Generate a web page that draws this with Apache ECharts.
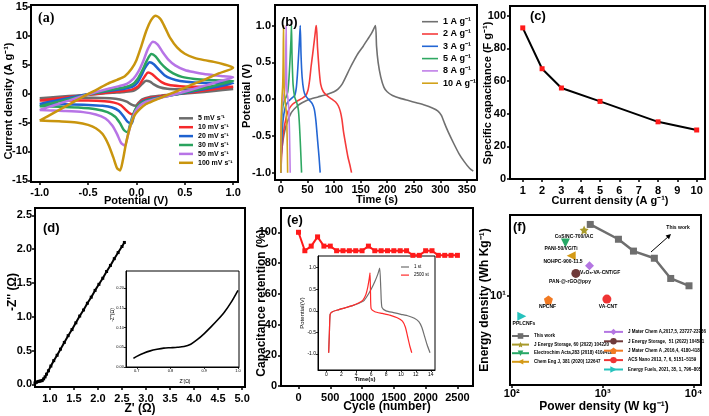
<!DOCTYPE html>
<html><head><meta charset="utf-8">
<script src="https://cdn.jsdelivr.net/npm/echarts@6/dist/echarts.min.js"></script>
<style>html,body{margin:0;padding:0;background:#fff}#c{width:709px;height:416px}</style>
</head><body><div id="c"></div>
<script>
// ---------- DATA ----------
// (a) CV curves [potential V, current A/g]
const cvNames = ['5 mV s⁻¹','10 mV s⁻¹','20 mV s⁻¹','30 mV s⁻¹','50 mV s⁻¹','100 mV s⁻¹'];
const cv5 = [[-1,-0.8],[-0.8,-0.55],[-0.6,-0.3],[-0.4,-0.05],[-0.25,0.15],[-0.12,0.3],[-0.03,0.5],[0.02,1.0],[0.06,1.7],[0.1,2.25],[0.14,2.1],[0.18,1.6],[0.24,1.1],[0.32,0.85],[0.45,0.75],[0.65,0.72],[0.85,0.75],[1.0,0.8],
 [0.8,0.45],[0.6,0.15],[0.4,-0.12],[0.25,-0.35],[0.13,-0.6],[0.06,-1.0],[0.02,-1.6],[-0.01,-2.1],[-0.05,-1.9],[-0.1,-1.4],[-0.17,-1.0],[-0.27,-0.8],[-0.45,-0.72],[-0.7,-0.75],[-1.0,-0.8]];
const cv10 = [[-1,-1.2],[-0.8,-0.8],[-0.6,-0.4],[-0.4,0.0],[-0.25,0.3],[-0.12,0.5],[-0.04,0.75],[0.02,1.3],[0.06,2.3],[0.09,3.1],[0.12,3.65],[0.16,3.4],[0.2,2.8],[0.26,2.0],[0.33,1.55],[0.45,1.3],[0.6,1.2],[0.8,1.2],[1.0,1.2],
 [0.8,0.75],[0.6,0.3],[0.4,-0.1],[0.25,-0.45],[0.14,-0.75],[0.07,-1.1],[0.02,-1.8],[-0.01,-2.8],[-0.04,-3.6],[-0.07,-3.4],[-0.11,-2.8],[-0.16,-2.0],[-0.23,-1.55],[-0.33,-1.3],[-0.5,-1.2],[-0.75,-1.2],[-1.0,-1.2]];
const cv20 = [[-1,-1.8],[-0.85,-1.25],[-0.7,-0.75],[-0.55,-0.25],[-0.4,0.2],[-0.25,0.55],[-0.12,0.85],[-0.04,1.2],[0.01,1.9],[0.05,3.1],[0.09,4.5],[0.138,5.45],[0.18,5.1],[0.23,4.2],[0.29,3.2],[0.36,2.6],[0.45,2.2],[0.6,1.95],[0.8,1.85],[1.0,1.8],
 [0.85,1.25],[0.7,0.75],[0.55,0.3],[0.4,-0.15],[0.25,-0.6],[0.14,-0.95],[0.07,-1.3],[0.02,-2.0],[-0.02,-3.3],[-0.05,-5.2],[-0.09,-4.9],[-0.13,-4.0],[-0.18,-3.0],[-0.25,-2.4],[-0.35,-2.1],[-0.5,-1.95],[-0.75,-1.85],[-1.0,-1.8]];
const cv30 = [[-1,-2.2],[-0.85,-1.55],[-0.7,-0.95],[-0.55,-0.35],[-0.4,0.2],[-0.25,0.7],[-0.12,1.1],[-0.04,1.6],[0.01,2.5],[0.06,4.0],[0.11,5.8],[0.155,6.85],[0.2,6.4],[0.25,5.3],[0.31,4.3],[0.38,3.5],[0.47,2.9],[0.6,2.55],[0.75,2.35],[0.9,2.25],[1.0,2.2],
 [0.85,1.55],[0.7,0.95],[0.55,0.4],[0.4,-0.15],[0.25,-0.65],[0.14,-1.05],[0.06,-1.5],[0.0,-2.4],[-0.04,-3.9],[-0.07,-5.6],[-0.09,-6.7],[-0.13,-6.3],[-0.17,-5.1],[-0.22,-4.0],[-0.3,-3.2],[-0.42,-2.7],[-0.6,-2.4],[-0.8,-2.25],[-1.0,-2.2]];
const cv50 = [[-1,-2.85],[-0.85,-2.0],[-0.7,-1.2],[-0.55,-0.4],[-0.4,0.35],[-0.28,0.9],[-0.18,1.3],[-0.1,1.7],[-0.03,2.6],[0.02,3.8],[0.07,5.6],[0.12,7.8],[0.17,9.0],[0.22,8.5],[0.27,7.2],[0.33,5.9],[0.4,4.9],[0.5,4.1],[0.6,3.7],[0.7,3.4],[0.8,3.2],[0.9,3.0],[1.0,2.85],
 [0.85,2.1],[0.7,1.35],[0.55,0.6],[0.4,-0.1],[0.28,-0.6],[0.18,-1.0],[0.1,-1.4],[0.04,-2.0],[-0.01,-3.0],[-0.05,-4.8],[-0.09,-7.3],[-0.12,-9.0],[-0.16,-8.5],[-0.2,-7.0],[-0.25,-5.5],[-0.32,-4.3],[-0.42,-3.6],[-0.55,-3.2],[-0.75,-3.0],[-1.0,-2.85]];
const cv100 = [[-1,-4.65],[-0.85,-3.3],[-0.7,-1.9],[-0.55,-0.5],[-0.4,0.8],[-0.3,1.7],[-0.2,2.4],[-0.12,3.0],[-0.05,4.3],[0.0,5.8],[0.05,8.2],[0.1,10.8],[0.15,12.7],[0.2,13.5],[0.25,12.9],[0.3,11.3],[0.35,9.6],[0.42,8.0],[0.5,6.9],[0.6,6.2],[0.7,5.8],[0.8,5.5],[0.9,5.1],[1.0,4.5],
 [0.85,3.5],[0.7,2.4],[0.55,1.4],[0.4,0.3],[0.28,-0.5],[0.18,-1.2],[0.1,-1.8],[0.04,-2.6],[-0.02,-3.8],[-0.07,-6.0],[-0.11,-8.8],[-0.14,-11.5],[-0.17,-13.3],[-0.2,-12.9],[-0.24,-11.0],[-0.29,-8.8],[-0.35,-7.0],[-0.42,-6.0],[-0.5,-5.4],[-0.62,-5.0],[-0.8,-4.8],[-1.0,-4.65]];

// (b) GCD curves [time s, potential V]
const gcdNames = ['1 A g⁻¹','2 A g⁻¹','3 A g⁻¹','5 A g⁻¹','8 A g⁻¹','10 A g⁻¹'];
const gcd1 = [[0,-0.8],[3,-0.62],[6,-0.48],[10,-0.36],[15,-0.26],[20,-0.18],[30,-0.1],[40,-0.05],[55,0.0],[70,0.03],[85,0.06],[100,0.1],[108,0.14],[115,0.2],[122,0.3],[130,0.42],[138,0.53],[146,0.63],[155,0.72],[163,0.81],[171,0.9],[178,1.0],[180,0.72],[183,0.5],[188,0.3],[194,0.16],[200,0.1],[210,0.05],[225,0.01],[240,-0.02],[255,-0.05],[270,-0.08],[285,-0.12],[295,-0.16],[302,-0.22],[308,-0.33],[315,-0.45],[325,-0.6],[335,-0.74],[345,-0.85],[355,-0.94],[362,-0.98]];
const gcd2 = [[0,-1.0],[2,-0.7],[5,-0.45],[10,-0.25],[15,-0.14],[22,-0.07],[30,-0.03],[40,0.01],[47,0.05],[51,0.12],[54,0.25],[57,0.45],[60,0.62],[63,0.8],[66,0.98],[67,1.0],[69,0.7],[72,0.4],[75,0.2],[80,0.1],[88,0.04],[96,0.0],[103,-0.04],[108,-0.09],[112,-0.17],[115,-0.28],[118,-0.45],[122,-0.62],[126,-0.78],[130,-0.9],[133,-1.0]];
const gcd3 = [[0,-1.0],[1.5,-0.6],[4,-0.3],[8,-0.12],[13,-0.04],[20,0.01],[26,0.05],[29,0.15],[31,0.32],[33,0.55],[35,0.8],[36.5,1.0],[38,0.6],[40,0.3],[43,0.12],[47,0.04],[53,-0.01],[59,-0.06],[63,-0.14],[66,-0.3],[69,-0.55],[72,-0.8],[74,-1.0]];
const gcd5 = [[0,-1.0],[1,-0.45],[3,-0.15],[6,-0.03],[10,0.03],[13,0.1],[15,0.25],[17,0.5],[19,0.8],[20,1.0],[21,0.6],[23,0.2],[26,0.03],[30,-0.05],[33,-0.15],[35,-0.35],[37,-0.65],[39,-1.0]];
const gcd8 = [[0,-1.0],[0.8,-0.4],[2.5,-0.08],[5,0.03],[7.5,0.12],[8.8,0.4],[10,1.0],[10.6,0.5],[11.5,0.1],[13.5,0.0],[15,-0.15],[16.3,-0.45],[17.6,-1.0]];
const gcd10 = [[0,-1.0],[0.5,-0.3],[2,0.0],[3.5,0.2],[4.3,0.5],[5,1.0],[5.5,0.5],[6.5,0.1],[8.5,-0.05],[10.5,-0.2],[11.8,-0.5],[12.8,-1.0]];

// (c) specific capacitance
const currentDensity = [1,2,3,5,8,10];
const capacitance = [92.5,67.5,55.7,47.5,35,30];

// (d) Nyquist
const nyquist = [[0.69,0.02],[0.72,0.03],[0.75,0.04],[0.78,0.045],[0.81,0.05],[0.84,0.055],[0.87,0.08],[0.9,0.11],[0.93,0.15],[0.97,0.2],[1.02,0.27],[1.08,0.35],[1.15,0.43],[1.22,0.52],[1.3,0.62],[1.38,0.72],[1.46,0.81],[1.54,0.91],[1.62,1.01],[1.7,1.1],[1.78,1.2],[1.86,1.29],[1.94,1.39],[2.02,1.48],[2.1,1.57],[2.18,1.67],[2.26,1.76],[2.34,1.86],[2.42,1.95],[2.5,2.04],[2.55,2.1]];
const nyquistZoom = [[0.69,0.022],[0.7,0.027],[0.72,0.035],[0.74,0.041],[0.76,0.045],[0.78,0.048],[0.8,0.049],[0.82,0.05],[0.84,0.052],[0.86,0.058],[0.88,0.07],[0.9,0.085],[0.92,0.102],[0.94,0.12],[0.96,0.14],[0.98,0.165],[1.0,0.195]];

// (e) cycling
const cycles = [0,100,200,300,400,500,600,700,800,900,1000,1100,1200,1300,1400,1500,1600,1700,1800,1900,2000,2100,2200,2300,2400,2500];
const retention = [100,88,91,97,91,91,88,88,88,88,88,91,88,88,88,88,88,88,85,85,88,88,85,85,85,85];
const gcdFirst = [[0.3,-0.97],[0.4,-0.5],[0.5,-0.08],[0.8,-0.02],[1.5,0.02],[2.5,0.07],[3.5,0.12],[4.3,0.17],[5.0,0.23],[5.5,0.35],[6.0,0.5],[6.5,0.68],[6.9,0.85],[7.15,0.99],[7.3,0.5],[7.45,0.08],[8,0.0],[9,-0.04],[10,-0.08],[11,-0.12],[11.8,-0.17],[12.4,-0.25],[12.8,-0.38],[13.1,-0.55],[13.5,-0.78],[13.9,-0.97]];
const gcd2500 = [[0.3,-0.97],[0.4,-0.5],[0.5,-0.08],[0.8,-0.02],[1.5,0.02],[2.5,0.07],[3.5,0.12],[4.3,0.18],[4.9,0.25],[5.3,0.38],[5.55,0.55],[5.75,0.75],[5.85,0.88],[5.92,0.4],[6.0,0.05],[6.5,-0.02],[7.5,-0.06],[8.5,-0.1],[9.5,-0.16],[10.2,-0.24],[10.6,-0.38],[10.9,-0.6],[11.2,-0.82],[11.45,-0.97]];

// (f) Ragone
const thisWorkPower = [730,1490,2180,3700,5600,8900];
const thisWorkEnergy = [26.4,21.6,18.4,16.7,12.7,11.5];
const refNames = ['J Energy Storage, 60 (2022) 104220','Electrochim Acta,283 (2018) 410e418','Chem Eng J, 381 (2020) 122647','J Mater Chem A,2017,5, 23727-23736','J Energy Storage,  51 (2022) 104581','J Mater Chem A ,2016,4, 4180-4187','ACS Nano 2013, 7, 6, 5151–5159','Energy Fuels, 2021, 35, 1, 796–805'];
const refPower = [625,389,450,716,507,253,1112,129];
const refEnergy = [24.5,20.5,17.3,15.1,13.6,9.5,9.6,7.6];
const refMaterials = ['CoS/NC-700//AC','PANI-50/VG/Ti','NOHPC-900-11.5','V₂O₅-VA-CNT/GF','PAN-@-rGO@ppy','NPCNF','VA-CNT','PPLCNFs'];

// ---------- STYLE ----------
const FF = "'Liberation Sans', Arial, Helvetica, sans-serif";
const cvColors = ['#6d6d6d','#f5292c','#1e62d0','#2aa35e','#b774e6','#c9950e'];
const gcdColors = ['#707070','#f53b3b','#2366d4','#2fa862','#c07fe8','#d2a21a'];
const refColors = ['#a89a2c','#27a866','#d49a17','#b476e2','#6f3a3a','#f27a22','#ef3434','#27c2bd'];
const pent = 'path://M0,-10 L9.5,-3.1 L5.9,8.1 L-5.9,8.1 L-9.5,-3.1 Z';
const refSymbols = ['path://M0,-10 L2.9,-4 L9.5,-3.1 L4.7,1.5 L5.9,8.1 L0,5 L-5.9,8.1 L-4.7,1.5 L-9.5,-3.1 L-2.9,-4 Z','triangle','triangle','diamond','circle',pent,'circle','triangle'];
const refRotate = [0,180,90,0,0,0,0,-90];

const grids = [
  {left:31, top:5, width:207, height:177},   // a
  {left:275, top:5, width:202, height:175},  // b
  {left:510, top:6, width:195, height:173},  // c
  {left:35, top:208, width:210, height:179}, // d
  {left:126, top:271, width:113, height:96, inset:true}, // d inset
  {left:281, top:208, width:192, height:178},// e
  {left:318, top:256, width:117, height:114, inset:true},// e inset
  {left:510, top:215, width:191, height:170} // f
].map(g => ({left:g.left, top:g.top, width:g.width, height:g.height, show:true,
  borderColor:'#000', borderWidth: g.inset?1:2, backgroundColor: g.inset?'#fff':'transparent',
  containLabel:false, outerBoundsMode:'none'}));

function axis(o){
  const inset = !!o.inset;
  const fs = o.fs || 11;
  const a = {
    type: o.type || 'value', gridIndex:o.g, min:o.min, max:o.max,
    axisLine:{show:true, onZero:false, lineStyle:{color:'#000', width: inset?1:2}},
    axisTick:{show:true, length: inset?2:3, lineStyle:{color:'#000', width: inset?0.8:1.5}},
    axisLabel:{fontFamily:FF, fontWeight: inset?'normal':'bold', fontSize:fs, color:'#000', margin:o.margin, formatter:o.fmt},
    splitLine:{show:false}
  };
  if (o.ticks){ a.axisTick.customValues = o.ticks; a.axisLabel.customValues = o.ticks; }
  if (o.type === 'log'){ a.logBase = 10; a.minorTick = {show:false}; }
  return a;
}
const f1 = v => v.toFixed(1), f0 = v => String(Math.round(v)), f2 = v => v.toFixed(2);
const sup = {1:'¹',2:'²',3:'³',4:'⁴'};
const fLog = v => { const e = Math.log10(v); return Math.abs(e - Math.round(e)) < 0.01 && sup[Math.round(e)] ? '10' + sup[Math.round(e)] : ''; };

const xAxis = [
  axis({g:0, min:-1.09, max:1.05, ticks:[-1,-0.5,0,0.5,1], fmt:f1, margin:5}),
  axis({g:1, min:-11, max:369, ticks:[0,50,100,150,200,250,300,350], fmt:f0, margin:4}),
  axis({g:2, min:0.34, max:10.43, ticks:[1,2,3,4,5,6,7,8,9,10], fmt:f0, margin:6}),
  axis({g:3, min:0.69, max:5.06, ticks:[1,1.5,2,2.5,3,3.5,4,4.5,5], fmt:f1, margin:6}),
  axis({g:4, min:0.668, max:1.003, ticks:[0.7,0.8,0.9,1.0], fmt:f1, margin:2, inset:true, fs:4}),
  axis({g:5, min:-275, max:2745, ticks:[0,500,1000,1500,2000,2500], fmt:f0, margin:6}),
  axis({g:6, min:-1.13, max:14.57, ticks:[0,2,4,6,8,10,12,14], fmt:f0, margin:2, inset:true, fs:5}),
  axis({g:7, type:'log', min:95.6, max:12060, ticks:[100,1000,10000], fmt:fLog, margin:3})
];
const yAxis = [
  axis({g:0, min:-15.3, max:15.35, ticks:[-15,-10,-5,0,5,10,15], fmt:f0, margin:3}),
  axis({g:1, min:-1.10, max:1.28, ticks:[-1,-0.5,0,0.5,1], fmt:f1, margin:4}),
  axis({g:2, min:0, max:105.9, ticks:[0,20,40,60,80,100], fmt:f0, margin:4}),
  axis({g:3, min:-0.04, max:2.61, ticks:[0,0.5,1,1.5,2,2.5], fmt:f1, margin:3}),
  axis({g:4, min:0, max:0.244, ticks:[0,0.05,0.1,0.15,0.2], fmt:f2, margin:2, inset:true, fs:4}),
  axis({g:5, min:0, max:115.8, ticks:[0,20,40,60,80,100], fmt:f0, margin:4}),
  axis({g:6, min:-1.37, max:1.27, ticks:[-1,-0.5,0,0.5,1], fmt:f1, margin:2, inset:true, fs:5}),
  axis({g:7, type:'log', min:3, max:30, ticks:[10], fmt:fLog, margin:4})
];

const series = [];
[cv5,cv10,cv20,cv30,cv50,cv100].forEach((d,i) => series.push({
  type:'line', name:cvNames[i], xAxisIndex:0, yAxisIndex:0, data:d, symbol:'none', smooth:0.25,
  lineStyle:{color:cvColors[i], width:2.5}, itemStyle:{color:cvColors[i]}
}));
[gcd1,gcd2,gcd3,gcd5,gcd8,gcd10].forEach((d,i) => series.push({
  type:'line', name:gcdNames[i], xAxisIndex:1, yAxisIndex:1, data:d, symbol:'none', smooth:0.2,
  lineStyle:{color:gcdColors[i], width:1.6}, itemStyle:{color:gcdColors[i]}
}));
series.push({type:'line', name:'capacitance', xAxisIndex:2, yAxisIndex:2,
  data: currentDensity.map((x,i)=>[x,capacitance[i]]), symbol:'rect', symbolSize:5,
  lineStyle:{color:'#000', width:2}, itemStyle:{color:'#ff1a1a'}});
series.push({type:'line', name:'nyquist', xAxisIndex:3, yAxisIndex:3, data:nyquist, symbol:'rect', symbolSize:3,
  lineStyle:{color:'#000', width:2}, itemStyle:{color:'#000'}});
series.push({type:'line', name:'nyquistZoom', xAxisIndex:4, yAxisIndex:4, data:nyquistZoom, symbol:'none', smooth:0.3,
  lineStyle:{color:'#000', width:1.6}});
series.push({type:'line', name:'retention', xAxisIndex:5, yAxisIndex:5,
  data: cycles.map((c,i)=>[c,retention[i]]), symbol:'rect', symbolSize:5,
  lineStyle:{color:'#ff1a1a', width:2}, itemStyle:{color:'#ff1a1a'}});
series.push({type:'line', name:'1 st', xAxisIndex:6, yAxisIndex:6, data:gcdFirst, symbol:'none', smooth:0.2,
  lineStyle:{color:'#6f6f6f', width:1.2}, itemStyle:{color:'#6f6f6f'}});
series.push({type:'line', name:'2500 st', xAxisIndex:6, yAxisIndex:6, data:gcd2500, symbol:'none', smooth:0.2,
  lineStyle:{color:'#ff2a2a', width:1.2}, itemStyle:{color:'#ff2a2a'}});
series.push({type:'line', name:'This work', xAxisIndex:7, yAxisIndex:7,
  data: thisWorkPower.map((p,i)=>[p,thisWorkEnergy[i]]), symbol:'rect', symbolSize:7,
  lineStyle:{color:'#6e6e6e', width:2.5}, itemStyle:{color:'#6e6e6e'}});
refNames.forEach((n,i) => series.push({type:'line', name:n, xAxisIndex:7, yAxisIndex:7,
  data:[[refPower[i], refEnergy[i]]], symbol:refSymbols[i], symbolRotate:refRotate[i], symbolSize:9, showSymbol:true,
  lineStyle:{color:refColors[i], width:2.5}, itemStyle:{color:refColors[i]}}));

const legBase = {orient:'vertical', padding:0, selectedMode:false};
const legend = [
  Object.assign({}, legBase, {data:cvNames, left:179, top:114.8, icon:'rect', itemWidth:14, itemHeight:2.5, itemGap:1.9,
    textStyle:{fontFamily:FF, fontWeight:'bold', fontSize:7, color:'#000'}}),
  Object.assign({}, legBase, {data:gcdNames, left:422, top:17.2, icon:'rect', itemWidth:16, itemHeight:1.6, itemGap:3.3,
    textStyle:{fontFamily:FF, fontWeight:'bold', fontSize:9, color:'#000'}}),
  Object.assign({}, legBase, {data:['1 st','2500 st'], left:401, top:264.5, icon:'rect', itemWidth:8, itemHeight:1.2, itemGap:3.1,
    textStyle:{fontFamily:FF, fontSize:4.5, color:'#000'}}),
  Object.assign({}, legBase, {data:['This work'].concat(refNames.slice(0,3)), left:511, top:333.2, itemWidth:17, itemHeight:7, itemGap:3,
    textStyle:{fontFamily:FF, fontWeight:'bold', fontSize:4.5, color:'#000'}}),
  Object.assign({}, legBase, {data:refNames.slice(3), left:603, top:328.7, itemWidth:19, itemHeight:8, itemGap:3,
    textStyle:{fontFamily:FF, fontWeight:'bold', fontSize:4.5, color:'#000'}})
];

function txt(x, y, s, font, align, rot){
  return {type:'text', x:x, y:y, z:100, rotation: rot ? Math.PI/2 : 0,
    style:{text:s, font:font, fill:'#000', textAlign:align||'left', align:align||'left', textVerticalAlign:'middle', verticalAlign:'middle'}};
}
const small = 'bold 5px ' + FF;
const T11 = 'bold 11px ' + FF, T12 = 'bold 12px ' + FF;
const tiny = '5px ' + FF;
const graphic = [
  txt(38, 18, '(a)', "bold 14px 'Liberation Serif', 'DejaVu Serif', serif"),
  txt(281, 22, '(b)', 'bold 13px ' + FF),
  txt(530, 16, '(c)', 'bold 13px ' + FF),
  txt(43, 228, '(d)', 'bold 13px ' + FF),
  txt(287, 220, '(e)', 'bold 13px ' + FF),
  txt(513, 227, '(f)', 'bold 13px ' + FF),
  // axis titles
  txt(9, 101, 'Current density (A g⁻¹)', T11, 'center', true),
  txt(136, 201, 'Potential (V)', T11, 'center'),
  txt(247, 96, 'Potential (V)', T11, 'center', true),
  txt(377, 200, 'Time (s)', T11, 'center'),
  txt(488, 93, 'Specific capacitance (F g⁻¹)', T11, 'center', true),
  txt(610, 201, 'Current density (A g⁻¹)', T11, 'center'),
  txt(13, 292, "-Z'' (Ω)", T12, 'center', true),
  txt(140, 409, "Z' (Ω)", T12, 'center'),
  txt(262, 303, 'Capacitance retention (%)', T12, 'center', true),
  txt(387, 407, 'Cycle (number)', T12, 'center'),
  txt(485, 300, 'Energy density (Wh Kg⁻¹)', T12, 'center', true),
  txt(604, 407, 'Power density (W kg⁻¹)', T12, 'center'),
  txt(185, 382, "Z'(Ω)", tiny, 'center'),
  txt(113, 315, "-Z''(Ω)", tiny, 'center', true),
  txt(365, 379, 'Time(s)', 'bold 6px ' + FF, 'center'),
  txt(302, 313, 'Potential(V)', '6px ' + FF, 'center', true),
  // annotations in (f)
  txt(574, 237, refMaterials[0], small, 'center'),
  txt(561, 249, refMaterials[1], small, 'center'),
  txt(563, 262, refMaterials[2], small, 'center'),
  txt(580, 273, refMaterials[3], small, 'left'),
  txt(570, 282, refMaterials[4], small, 'center'),
  txt(547.5, 307, refMaterials[5], small, 'center'),
  txt(608, 307, refMaterials[6], small, 'center'),
  txt(524, 324, refMaterials[7], small, 'center'),
  txt(678, 228, 'This work', small, 'center'),
  {type:'line', z:100, shape:{x1:651, y1:252, x2:669, y2:236}, style:{stroke:'#000', lineWidth:1}},
  {type:'polygon', z:100, shape:{points:[[671,234],[669,239.2],[665.6,235.4]]}, style:{fill:'#000'}}
];

const chart = echarts.init(document.getElementById('c'), null, {renderer:'canvas'});
chart.setOption({backgroundColor:'#fff', animation:false, grid:grids, xAxis:xAxis, yAxis:yAxis,
  series:series, legend:legend, graphic:graphic, tooltip:{show:false}});
</script></body></html>
